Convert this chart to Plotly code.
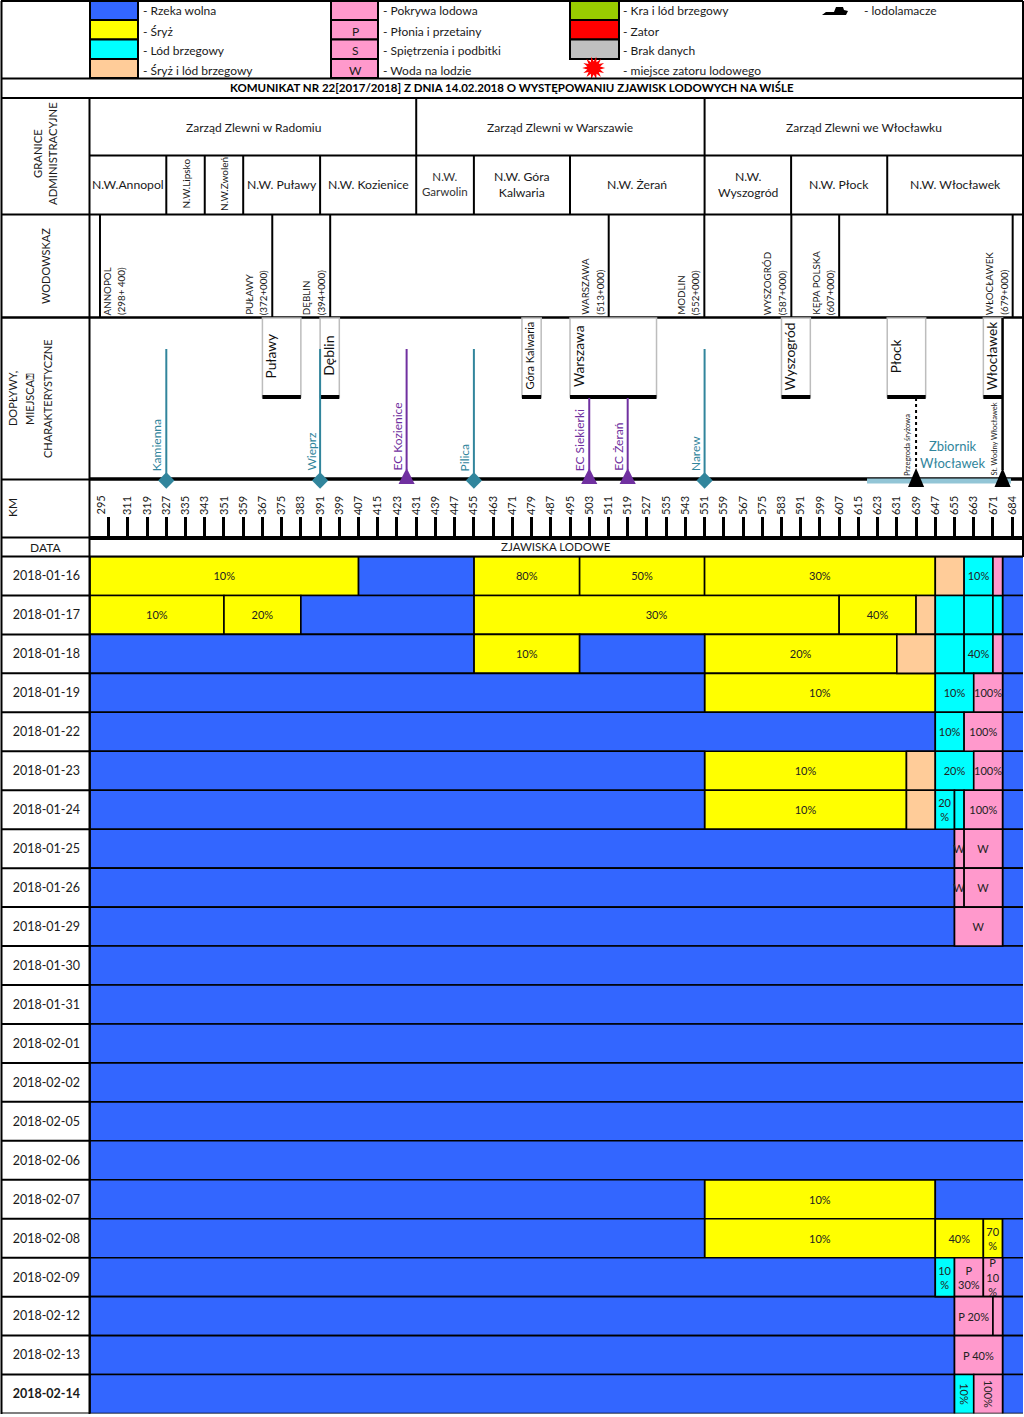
import math
import plotly.graph_objects as go

W, H = 1024, 1417
FONT = "Lato"
BLUE, YEL, CYA, PEA, PIN, GRN, RED, GRY = "#3366FF", "#FFFF00", "#00FFFF", "#FFCC99", "#FF99CC", "#99CC00", "#FF0000", "#C0C0C0"
TEAL, PURP = "#31859C", "#7030A0"
STATE_COLOR = {"B": BLUE, "Y": YEL, "C": CYA, "O": PEA, "P": PIN}

KM_MIN, KM_MAX = 295.25, 683.5

dates = ["2018-01-16", "2018-01-17", "2018-01-18", "2018-01-19", "2018-01-22", "2018-01-23", "2018-01-24",
         "2018-01-25", "2018-01-26", "2018-01-29", "2018-01-30", "2018-01-31", "2018-02-01", "2018-02-02",
         "2018-02-05", "2018-02-06", "2018-02-07", "2018-02-08", "2018-02-09", "2018-02-12", "2018-02-13", "2018-02-14"]

# km at the right end of each segment of each row
row_edges = [
    [407, 455, 499, 551, 647, 659, 671, 675, 684],
    [351, 383, 455, 607, 639, 647, 659, 671, 675, 684],
    [455, 499, 551, 631, 647, 659, 671, 675, 684],
    [551, 647, 663, 675, 684],
    [647, 659, 675, 684],
    [551, 635, 647, 663, 675, 684],
    [551, 635, 647, 655, 659, 675, 684],
    [655, 659, 675, 684],
    [655, 659, 675, 684],
    [655, 675, 684],
    [684], [684], [684], [684], [684], [684],
    [551, 647, 684],
    [551, 647, 667, 675, 684],
    [647, 655, 667, 675, 684],
    [655, 671, 675, 684],
    [655, 675, 684],
    [655, 663, 675, 684],
]
row_states = [
    "YBYYYOCPB", "YYBYYOCCCB", "BYBYOCCPB", "BYCPB", "BCPB", "BYOCPB", "BYOCCPB", "BPPB", "BPPB", "BPB",
    "B", "B", "B", "B", "B", "B", "BYB", "BYYYB", "BCPPB", "BPPB", "BPB", "BCPB",
]
row_labels = [
    ["10%", "", "80%", "50%", "30%", "", "10%", "", ""],
    ["10%", "20%", "", "30%", "40%", "", "", "", "", ""],
    ["", "10%", "", "20%", "", "", "40%", "", ""],
    ["", "10%", "10%", "100%", ""],
    ["", "10%", "100%", ""],
    ["", "10%", "", "20%", "100%", ""],
    ["", "10%", "", "20<br>%", "", "100%", ""],
    ["", "W", "W", ""],
    ["", "W", "W", ""],
    ["", "W", ""],
    [""], [""], [""], [""], [""], [""],
    ["", "10%", ""],
    ["", "10%", "40%", "70<br>%", ""],
    ["", "10<br>%", "P<br>30%", "P<br>10<br>%", ""],
    ["", "P 20%", "", ""],
    ["", "P 40%", ""],
    ["", "10%", "100%", ""],
]
rotated_rows = ["2018-02-14"]

km_ticks = list(range(303, 680, 8))
km_ticktext = ["", "311", "319"] + [str(k) for k in range(327, 672, 8)] + ["684"]
first_km_label = "295"

admin_top_names = ["Zarząd Zlewni w Radomiu", "Zarząd Zlewni w Warszawie", "Zarząd Zlewni we Włocławku"]
admin_top_edges = [295.25, 431, 551, 683.5]
admin_low_names = ["N.W.Annopol", "N.W.Lipsko", "N.W.Zwoleń", "N.W. Puławy", "N.W. Kozienice", "N.W.<br>Garwolin",
                   "N.W. Góra<br>Kalwaria", "N.W. Żerań", "N.W.<br>Wyszogród", "N.W. Płock", "N.W. Włocławek"]
admin_low_edges = [295.25, 327, 343, 359, 391, 431, 455, 495, 551, 587, 627, 683.5]

gauge_names = ["ANNOPOL", "PUŁAWY", "DĘBLIN", "WARSZAWA", "MODLIN", "WYSZOGRÓD", "KĘPA POLSKA", "WŁOCŁAWEK"]
gauge_chain = ["(298+ 400)", "(372+000)", "(394+000)", "(513+000)", "(552+000)", "(587+000)", "(607+000)", "(679+000)"]
gauge_km = [299.4, 371.1, 395.2, 511.1, 550.9, 587.1, 607.0, 679.2]

city_names = ["Puławy", "Dęblin", "Góra Kalwaria", "Warszawa", "Wyszogród", "Płock", "Włocławek"]
city_from = [367, 391, 475, 495, 583, 627, 667]
city_to = [383, 399, 483, 531, 595, 643, 675]

trib_names = ["Kamienna", "Wieprz", "Pilica", "Narew"]
trib_km = [327, 391, 455, 551]
plant_names = ["EC Kozienice", "EC Siekierki", "EC Żerań"]
plant_km = [427, 503, 519]
plant_top = [131, 82, 82]
dam_km = [639, 675]
reservoir_km = [618.6, 678.5]


def px(x):
    return x / W


def py(y):
    return 1 - y / H


fig = go.Figure()

# ---------- ice table: one bar per segment, through the km axis and the date axis
groups = {}
for d, edges, states, labels in zip(dates, row_edges, row_states, row_labels):
    start = KM_MIN
    for end, s, lab in zip(edges, states, labels):
        key = (s, 90 if d in rotated_rows else 0)
        g = groups.setdefault(key, dict(y=[], x=[], base=[], text=[]))
        g["y"].append(d)
        g["x"].append(end - start)
        g["base"].append(start)
        g["text"].append(lab)
        start = end

for (s, ang), g in groups.items():
    fig.add_trace(go.Bar(
        orientation="h", y=g["y"], x=g["x"], base=g["base"], text=g["text"], width=1,
        marker=dict(color=STATE_COLOR[s], line=dict(color="black", width=1.6)),
        textposition="inside", insidetextanchor="middle", constraintext="none", textangle=ang,
        insidetextfont=dict(family=FONT, size=11, color="#222222"),
        hoverinfo="skip", showlegend=False, xaxis="x", yaxis="y", cliponaxis=True,
    ))

# ---------- river line and marks in the tributary panel (y2 = height above the river)
common = dict(xaxis="x", yaxis="y2", showlegend=False, hoverinfo="skip", cliponaxis=False)
fig.add_trace(go.Scatter(x=[KM_MIN, KM_MAX], y=[1, 1], mode="lines", line=dict(color="black", width=3.5), **common))
fig.add_trace(go.Scatter(x=reservoir_km, y=[-1, -1], mode="lines", line=dict(color="#92C5D6", width=5), **common))
fig.add_trace(go.Scatter(x=trib_km, y=[-0.5] * 4, mode="markers", marker=dict(symbol="diamond", size=12.5, color=TEAL), **common))

shapes = []
ann = []


def hline(y, x0=1, x1=1023, w=2, c="black"):
    shapes.append(dict(type="line", xref="paper", yref="paper", x0=px(x0), x1=px(x1), y0=py(y), y1=py(y),
                       line=dict(color=c, width=w)))


def vline(x, y0, y1, w=2, c="black"):
    shapes.append(dict(type="line", xref="paper", yref="paper", x0=px(x), x1=px(x), y0=py(y0), y1=py(y1),
                       line=dict(color=c, width=w)))


def kmline(km, y0, y1, w=2, c="black", dash=None):
    shapes.append(dict(type="line", xref="x", yref="paper", x0=km, x1=km, y0=py(y0), y1=py(y1),
                       line=dict(color=c, width=w, dash=dash or "solid")))


def triangle(km, low, high, color):
    half = 3.35
    shapes.append(dict(type="path", xref="x", yref="y2", fillcolor=color, line=dict(width=0),
                       path=f"M{km - half},{low} L{km + half},{low} L{km},{high} Z"))


def text(s, x, y, size=12, color="#1a1a1a", angle=0, xa="center", ya="middle", **kw):
    ann.append(dict(text=s, xref="paper", yref="paper", x=px(x), y=py(y - 1 if ya == "middle" else y), showarrow=False,
                    textangle=angle, xanchor=xa, yanchor=ya, font=dict(family=FONT, size=size, color=color), **kw))


def kmtext(s, km, y, size=12, color="#1a1a1a", angle=0, xa="center", ya="middle", dx=0, **kw):
    ann.append(dict(text=s, xref="x", yref="paper", x=km, y=py(y - 1 if ya == "middle" else y), xshift=dx, showarrow=False,
                    textangle=angle, xanchor=xa, yanchor=ya, font=dict(family=FONT, size=size, color=color), **kw))


# ---------- legend
leg_rows = [1, 20, 39.5, 59, 78]
leg_text_y = [11.5, 32, 51.5, 71.5]
for x0, x1, cols in [(90, 138, [BLUE, YEL, CYA, PEA]), (331, 378, [PIN, PIN, PIN, PIN]), (570, 619, [GRN, RED, GRY])]:
    for i, c in enumerate(cols):
        shapes.append(dict(type="rect", xref="paper", yref="paper", x0=px(x0), x1=px(x1),
                           y0=py(leg_rows[i]), y1=py(leg_rows[i + 1]), fillcolor=c, line=dict(color="black", width=2)))
for s, y in zip(["- Rzeka wolna", "- Śryż", "- Lód brzegowy", "- Śryż i lód brzegowy"], leg_text_y):
    text(s, 141, y, xa="left")
for s, y in zip(["- Pokrywa lodowa", "- Płonia i przetainy", "- Spiętrzenia i podbitki", "- Woda na lodzie"], leg_text_y):
    text(s, 381, y, xa="left")
for s, y in zip(["P", "S", "W"], leg_text_y[1:]):
    text(s, 355, y)
for s, y in zip(["- Kra i lód brzegowy", "- Zator", "- Brak danych", "- miejsce zatoru lodowego"], leg_text_y):
    text(s, 621, y, xa="left")
text("- lodolamacze", 862, 11.5, xa="left")

pts = [(822, 15), (826, 12), (834, 12), (836, 7), (843, 7), (844, 10), (848, 11), (846, 15)]
shapes.append(dict(type="path", xref="paper", yref="paper", fillcolor="black", line=dict(width=0),
                   path="M" + " L".join(f"{px(a):.5f},{py(b):.5f}" for a, b in pts) + " Z"))
burst = []
for i in range(28):
    r = 11.5 if i % 2 == 0 else 6.5
    t = 2 * math.pi * i / 28
    burst.append((593.7 + r * math.cos(t), 68 + r * math.sin(t)))
shapes.append(dict(type="path", xref="paper", yref="paper", fillcolor=RED, line=dict(width=0),
                   path="M" + " L".join(f"{px(a):.5f},{py(b):.5f}" for a, b in burst) + " Z"))

# ---------- frame
hline(1)
hline(78.5)
hline(98)
hline(214.5)
hline(317.5, w=2.5)
hline(479.5, 1, 90)
hline(537.5, 1, 90)
hline(556.5, w=2)
hline(155.5, 90, 1023)
vline(1.5, 1, 1414)
vline(1023, 1, 557)
vline(89.5, 98, 1414)
for i in range(len(dates)):
    shapes.append(dict(type="line", xref="paper", yref="y", x0=px(1), x1=px(90), y0=i + 0.5, y1=i + 0.5,
                       line=dict(color="black", width=2)))
for k in admin_top_edges[1:-1]:
    kmline(k, 98, 155.5)
for k in admin_low_edges[1:-1]:
    kmline(k, 155.5, 214.5)
for k in gauge_km:
    kmline(k, 214.5, 317)

# ---------- panel texts
text("<b>KOMUNIKAT NR 22[2017/2018] Z DNIA 14.02.2018 O WYSTĘPOWANIU ZJAWISK LODOWYCH NA WIŚLE</b>", 512, 88, size=11.5, color="black")
text("GRANICE", 37, 155, size=11.3, angle=-90)
text("ADMINISTRACYJNE", 52, 155, size=11.3, angle=-90)
text("WODOWSKAZ", 45, 267, size=11, angle=-90)
text("DOPŁYWY,", 12, 400, size=11, angle=-90)
text("MIEJSCA⍰", 29, 400, size=11, angle=-90)
text("CHARAKTERYSTYCZNE", 47, 400, size=11, angle=-90)
text("KM", 12, 509, size=12, angle=-90)
text("DATA", 45, 548, size=12)
text("ZJAWISKA LODOWE", 556, 547, size=11.5)
kmtext(first_km_label, 299.8, 516, size=11, angle=-90, ya="bottom")

for name, a, b in zip(admin_top_names, admin_top_edges[:-1], admin_top_edges[1:]):
    kmtext(name, (a + b) / 2, 128, size=12)
for name, a, b in zip(admin_low_names, admin_low_edges[:-1], admin_low_edges[1:]):
    if name in ("N.W.Lipsko", "N.W.Zwoleń"):
        kmtext(name, (a + b) / 2, 185, size=10, angle=-90)
    elif name == "N.W.<br>Garwolin":
        kmtext(name, (a + b) / 2, 185, size=11.5, color="#333333")
    else:
        kmtext(name, (a + b) / 2, 185, size=12.2)

for i, (name, chain, k) in enumerate(zip(gauge_names, gauge_chain, gauge_km)):
    first = i == 0
    kmtext(name, k, 317, size=9.8, angle=-90, ya="bottom", dx=7.5 if first else -23.5)
    kmtext(chain, k, 317, size=9.8, angle=-90, ya="bottom", dx=21 if first else -8.5)

# ---------- city boxes, stems and labels
for name, a, b in zip(city_names, city_from, city_to):
    shapes.append(dict(type="rect", xref="x", yref="paper", x0=a, x1=b, y0=py(318), y1=py(397), fillcolor="white",
                       line=dict(color="#BDBDBD", width=1.5)))
    shapes.append(dict(type="rect", xref="x", yref="paper", x0=a, x1=b, y0=py(395), y1=py(399), fillcolor="black",
                       line=dict(width=0)))
    if name == "Góra Kalwaria":
        kmtext(name, (a + b) / 2, 357, size=11, angle=-90, color="#111111", dx=-3)
    elif name == "Dęblin":
        kmtext(name, (a + b) / 2, 357, size=14, angle=-90, color="#111111", dx=-2)
    else:
        kmtext(name, a, 357, size=13.7, angle=-90, color="#111111", dx=8)

for name, k in zip(trib_names, trib_km):
    kmline(k, 349, 474, w=2, c=TEAL)
    kmtext(name, k, 473, size=12, color=TEAL, angle=-90, ya="bottom", dx=-9)
for name, k, t in zip(plant_names, plant_km, plant_top):
    kmline(k, 480 - t, 470, w=2, c=PURP)
    triangle(k, -4, 12, PURP)
    kmtext(name, k, 473, size=12, color=PURP, angle=-90, ya="bottom", dx=-9)
kmline(dam_km[0], 398, 470, w=2, c="black", dash="dot")
kmline(dam_km[1], 318, 470, w=2.5, c="black")
for k in dam_km:
    triangle(k, -7, 12, "black")
kmtext("Przegroda śryżowa", dam_km[0], 478, size=7.5, color="#222222", angle=-90, ya="bottom", dx=-9)
kmtext("St. Wodny Włocławek", dam_km[1], 478, size=7.5, color="#222222", angle=-90, ya="bottom", dx=-8.5)
kmtext("Zbiornik<br>Włocławek", 654, 455, size=13, color=TEAL)

ticktext_dates = [f"<b>{d}</b>" if d == dates[-1] else d for d in dates]

fig.update_layout(
    width=W, height=H, margin=dict(l=0, r=0, t=0, b=0), autosize=False,
    paper_bgcolor="white", plot_bgcolor="white", barmode="overlay", showlegend=False,
    shapes=shapes, annotations=ann,
    xaxis=dict(
        domain=[px(90), px(1023)], range=[KM_MIN, KM_MAX], anchor="free", position=py(538), side="top",
        tickmode="array", tickvals=km_ticks, ticktext=km_ticktext, tickangle=-90,
        ticks="outside", ticklen=19, tickwidth=2.5, tickcolor="black",
        showline=True, linecolor="black", linewidth=3.5, showgrid=False, zeroline=False,
        tickfont=dict(family=FONT, size=11, color="#1a1a1a"),
    ),
    yaxis=dict(
        domain=[py(1413.5), py(556.5)], type="category", categoryorder="array", categoryarray=dates,
        range=[len(dates) - 0.5, -0.5], tickmode="array", tickvals=dates, ticktext=ticktext_dates,
        showgrid=False, zeroline=False, showline=False, ticks="", ticklabelstandoff=9,
        tickfont=dict(family=FONT, size=12.5, color="#1a1a1a"), anchor="x", automargin=False,
    ),
    yaxis2=dict(domain=[py(490), py(318)], range=[-10, 162], visible=False, anchor="x", fixedrange=True),
)

fig.write_html("out.html", post_script="document.body.style.margin='0';", config={"displayModeBar": False})
